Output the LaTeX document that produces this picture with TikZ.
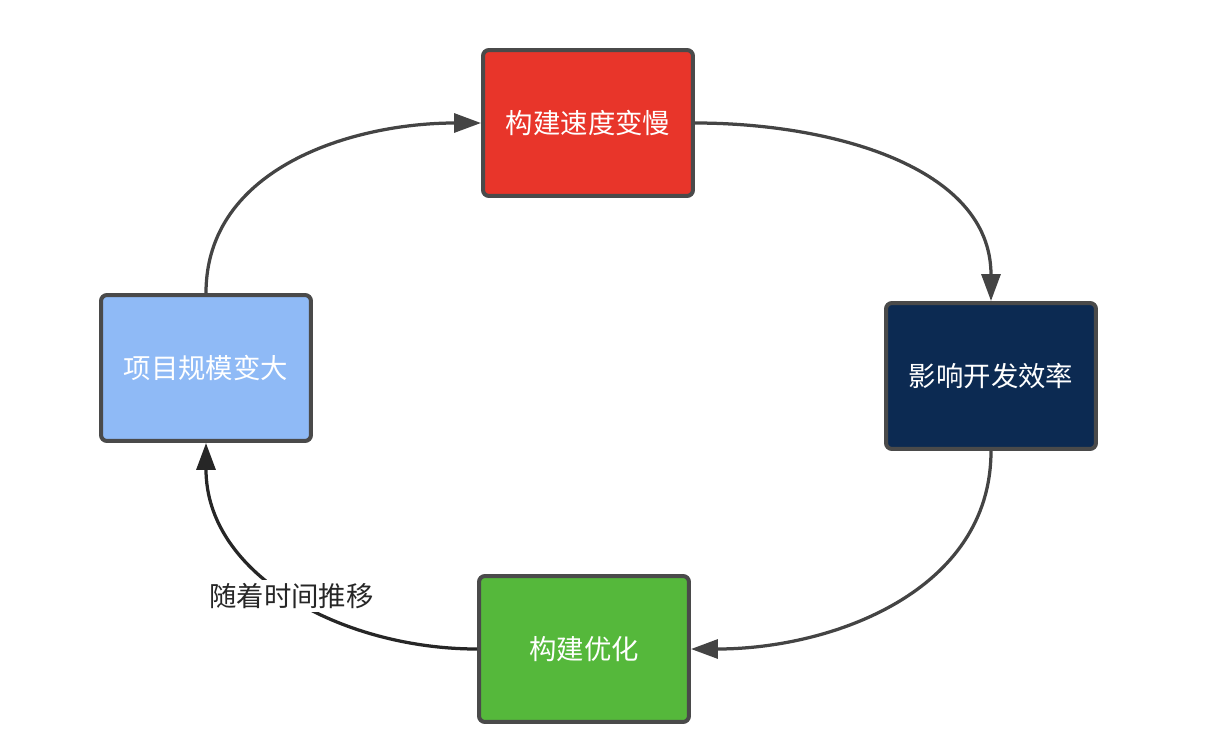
\documentclass[tikz,border=0pt]{standalone}
\usepackage{fontspec}
\newfontfamily\cjk{Noto Sans CJK SC}
\usetikzlibrary{arrows.meta}
\definecolor{boxred}{HTML}{E8352A}
\definecolor{boxblue}{HTML}{8FBAF6}
\definecolor{boxnavy}{HTML}{0C2A52}
\definecolor{boxgreen}{HTML}{55B83B}
\definecolor{edgegray}{HTML}{4A4A4A}
\definecolor{linegray}{HTML}{444444}
\tikzset{
	stagebox/.style={draw=edgegray, line width=0.08cm, rounded corners=0.12cm,
		minimum width=4.2cm, minimum height=2.92cm, text=white,
		font=\cjk\fontsize{15.6}{18}\selectfont},
	flow/.style={draw=linegray, line width=0.065cm,
		-{Triangle[length=0.54cm, width=0.38cm]}}
}
\begin{document}
\begin{tikzpicture}[x=0.02cm, y=-0.02cm]
	\useasboundingbox (0,0) rectangle (1232,745);
	
	%the four stages
	\node[stagebox, fill=boxred] (slow) at (588,123) {构建速度变慢};
	\node[stagebox, fill=boxnavy] (effect) at (991,376) {影响开发效率};
	\node[stagebox, fill=boxgreen] (optim) at (584,649) {构建优化};
	\node[stagebox, fill=boxblue] (grow) at (206,368) {项目规模变大};
	
	%cycle
	\draw[flow] (grow.north) to[out=90, in=180] (slow.west);
	\draw[flow] (slow.east) to[out=0, in=90] (effect.north);
	\draw[flow] (effect.south) to[out=-90, in=0] (optim.east);
	\draw[flow, draw=black!85] (optim.west) to[out=180, in=-90]
		node[pos=0.5, fill=white, inner sep=2pt, text=black!85,
			font=\cjk\fontsize{15.6}{18}\selectfont] (later) {随着时间推移}
		(grow.south);
\end{tikzpicture}
\end{document}
